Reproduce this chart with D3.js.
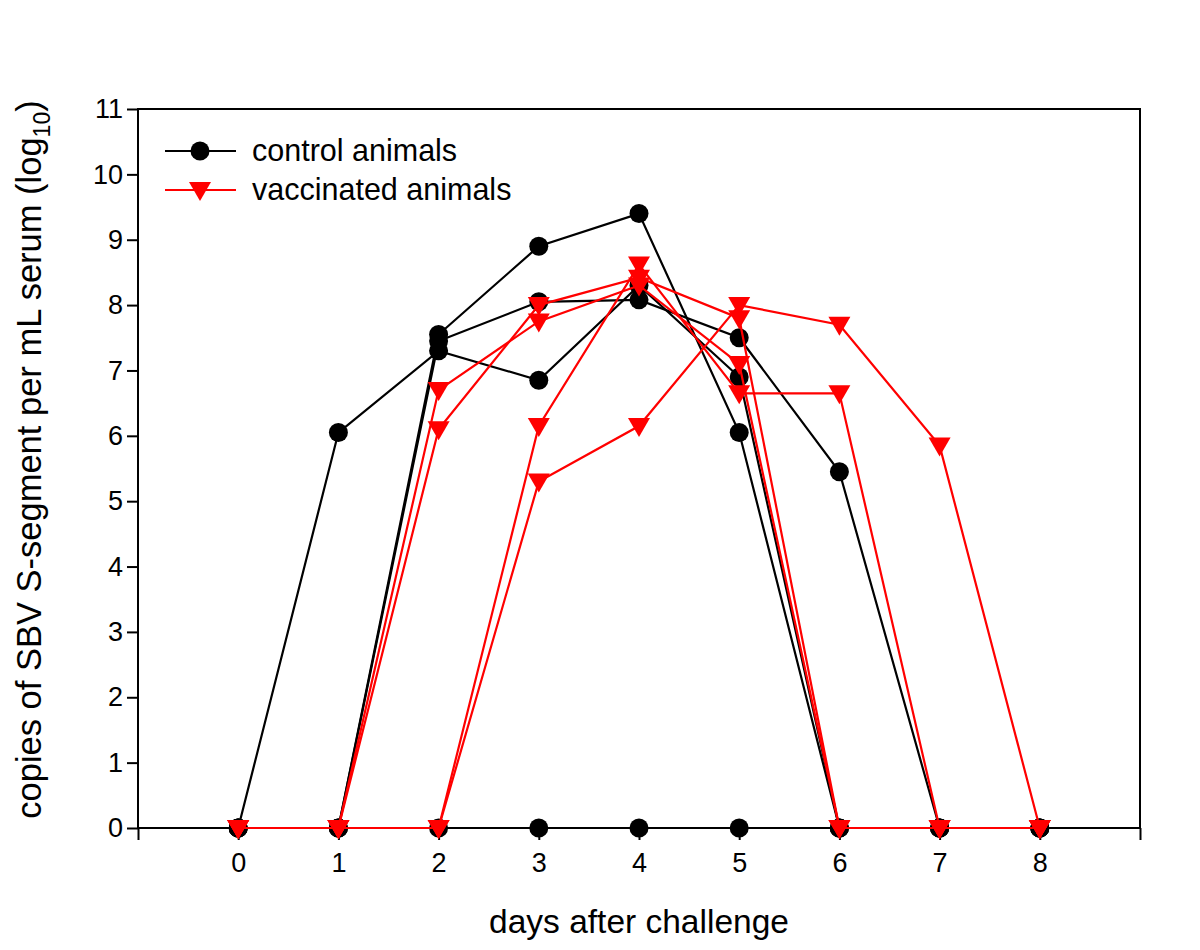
<!DOCTYPE html>
<html>
<head>
<meta charset="utf-8">
<script src="https://cdn.jsdelivr.net/npm/d3@7"></script>
<style>
  html, body { margin: 0; padding: 0; background: #fff; }
  svg { display: block; }
  text { font-family: "Liberation Sans", Arial, sans-serif; fill: #000; }
</style>
</head>
<body>
<svg id="chart" width="1200" height="950"></svg>
<script>
// ---- data ----
const days = [0, 1, 2, 3, 4, 5, 6, 7, 8];
const xTickValues = [-1, 0, 1, 2, 3, 4, 5, 6, 7, 8, 9];
const xTickLabels = ["", "0", "1", "2", "3", "4", "5", "6", "7", "8", ""];
const yTickValues = [0, 1, 2, 3, 4, 5, 6, 7, 8, 9, 10, 11];

// control animals (log10 copies per mL)
const control1 = [0, 6.05, 7.3, 6.85, 8.3, 6.9, 0, 0, 0];
const control2 = [0, 0, 7.55, 8.9, 9.4, 6.05, 0, 0, 0];
const control3 = [0, 0, 7.45, 8.05, 8.08, 7.5, 5.45, 0, 0];
const control4 = [0, 0, 0, 0, 0, 0, 0, 0, 0];

// vaccinated animals
const vacc1 = [0, 0, 6.7, 7.75, 8.3, 7.1, 0, 0, 0];
const vacc2 = [0, 0, 6.1, 8.0, 8.42, 7.8, 0, 0, 0];
const vacc3 = [0, 0, 0, 6.15, 8.62, 6.65, 6.65, 0, 0];
const vacc4 = [0, 0, 0, 5.3, 6.15, 8.0, 7.7, 5.85, 0];

const controlSeries = [control4, control1, control2, control3];
const vaccSeries = [vacc1, vacc2, vacc3, vacc4];

const legendLabels = ["control animals", "vaccinated animals"];

// ---- layout ----
const svg = d3.select("#chart");
const L = 138, R = 1140, T = 109, B = 828;
const x = d3.scaleLinear().domain([-1, 9]).range([L, R]);
const y = d3.scaleLinear().domain([0, 11]).range([B, T]);

const RED = "#ff0000";
const tri = "M-11,-8 L11,-8 L0,11 Z";

// frame
svg.append("rect").attr("x", L).attr("y", T).attr("width", R - L).attr("height", B - T)
  .attr("fill", "none").attr("stroke", "#000").attr("stroke-width", 2);

// axes
const yAxis = d3.axisLeft(y).tickValues(yTickValues).tickSize(11).tickPadding(4);
const gy = svg.append("g").attr("transform", `translate(${L},0)`).call(yAxis);
gy.select(".domain").remove();
gy.selectAll(".tick line").attr("stroke", "#000").attr("stroke-width", 2);
gy.selectAll(".tick text").attr("font-size", 27).attr("font-family", "Liberation Sans, Arial, sans-serif");

const xAxis = d3.axisBottom(x).tickValues(xTickValues).tickSize(12).tickPadding(13)
  .tickFormat((d, i) => xTickLabels[i]);
const gx = svg.append("g").attr("transform", `translate(0,${B})`).call(xAxis);
gx.select(".domain").remove();
gx.selectAll(".tick line").attr("stroke", "#000").attr("stroke-width", 2);
gx.selectAll(".tick text").attr("font-size", 27).attr("font-family", "Liberation Sans, Arial, sans-serif");

// data
const line = d3.line().x((d, i) => x(days[i])).y(d => y(d));
const plot = svg.append("g");

function drawSeries(vals, color, shape) {
  plot.append("path").datum(vals).attr("d", line)
    .attr("fill", "none").attr("stroke", color).attr("stroke-width", 2.2)
    .attr("stroke-linejoin", "miter");
  const g = plot.append("g");
  vals.forEach((v, i) => {
    if (shape === "circle") {
      g.append("circle").attr("cx", x(days[i])).attr("cy", y(v)).attr("r", 9.5).attr("fill", color);
    } else {
      g.append("path").attr("d", tri).attr("transform", `translate(${x(days[i])},${y(v)})`).attr("fill", color);
    }
  });
}
controlSeries.forEach(s => drawSeries(s, "#000", "circle"));
vaccSeries.forEach(s => drawSeries(s, RED, "tri"));

// legend
const lg = svg.append("g");
[[151, "#000", "circle"], [190, RED, "tri"]].forEach(([ly, c, s], i) => {
  lg.append("line").attr("x1", 165).attr("x2", 236).attr("y1", ly).attr("y2", ly)
    .attr("stroke", c).attr("stroke-width", 2.2);
  if (s === "circle") lg.append("circle").attr("cx", 200).attr("cy", ly).attr("r", 9.5).attr("fill", c);
  else lg.append("path").attr("d", tri).attr("transform", `translate(200,${ly})`).attr("fill", c);
  lg.append("text").attr("x", 252).attr("y", ly + 10).attr("font-size", 30.5).text(legendLabels[i]);
});

// axis titles
svg.append("text").attr("x", (L + R) / 2).attr("y", 933).attr("text-anchor", "middle")
  .attr("font-size", 33.5).text("days after challenge");

const yt = svg.append("text").attr("transform", `translate(41,${(T + B) / 2 - 9}) rotate(-90)`)
  .attr("text-anchor", "middle").attr("font-size", 34.5);
yt.append("tspan").text("copies of SBV S-segment per mL serum (log");
yt.append("tspan").attr("font-size", 23).attr("dy", 9).text("10");
yt.append("tspan").attr("dy", -9).text(")");
</script>
</body>
</html>
